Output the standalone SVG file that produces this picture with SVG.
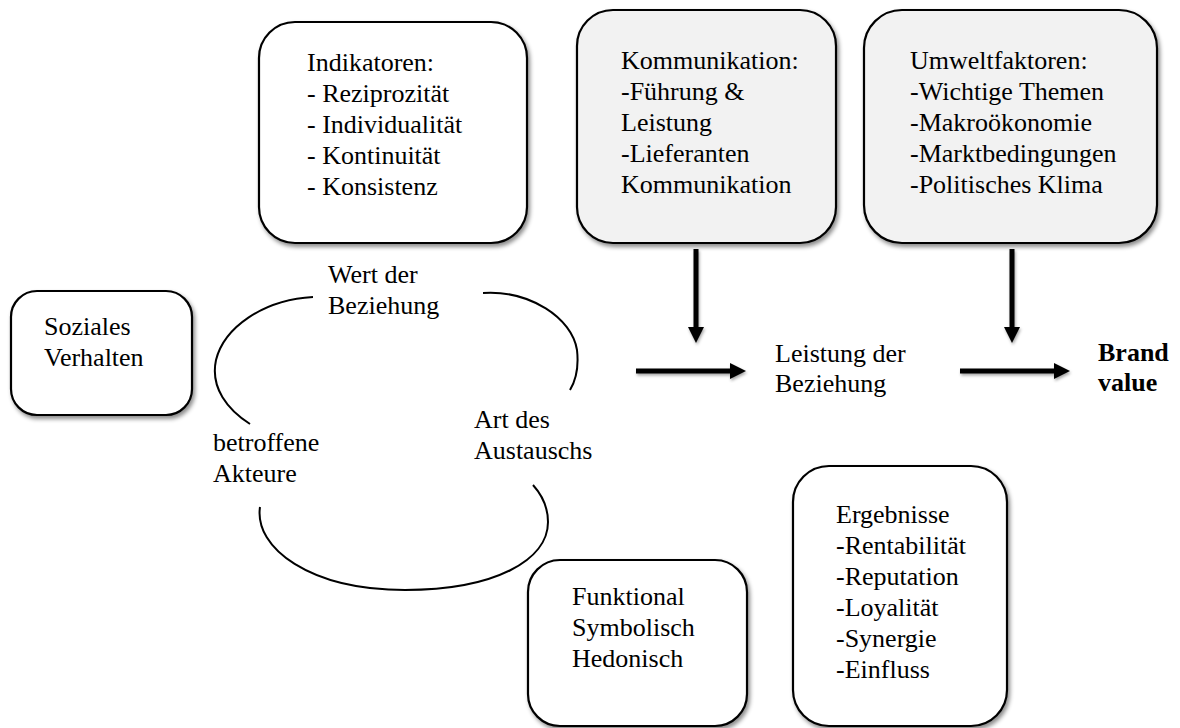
<svg xmlns="http://www.w3.org/2000/svg" width="1180" height="728" viewBox="0 0 1180 728" font-family="'Liberation Serif', 'Times New Roman', 'DejaVu Serif', serif">
<defs>
<filter id="sh" x="-10%" y="-10%" width="125%" height="130%">
<feDropShadow dx="2" dy="3" stdDeviation="2.2" flood-color="#000" flood-opacity="0.45"/>
</filter>
<filter id="ash" x="-20%" y="-20%" width="140%" height="140%">
<feDropShadow dx="1" dy="2" stdDeviation="1.5" flood-color="#000" flood-opacity="0.35"/>
</filter>
</defs>
<style>
.box{fill:#fff;stroke:#000;stroke-width:2.2;filter:url(#sh)}
.gbox{fill:#f2f2f2;stroke:#000;stroke-width:2.2;filter:url(#sh)}
.t{font-size:26px;fill:#000}
.b{font-weight:bold}
.arc{fill:none;stroke:#000;stroke-width:2}
.arr{fill:#000;stroke:none;filter:url(#ash)}
</style>
<rect width="1180" height="728" fill="#fff"/>

<g id="indikatoren">
<rect class="box" x="259" y="22" width="268" height="221" rx="36"/>
<g class="t" font-family="Liberation Serif, serif">
<text x="307" y="71">Indikatoren:</text>
<text x="307" y="102">- Reziprozität</text>
<text x="307" y="133">- Individualität</text>
<text x="307" y="164">- Kontinuität</text>
<text x="307" y="195">- Konsistenz</text>
</g>
</g>

<g id="kommunikation">
<rect class="gbox" x="577" y="10" width="259" height="233" rx="36"/>
<g class="t" font-family="Liberation Serif, serif">
<text x="621" y="69">Kommunikation:</text>
<text x="621" y="100">-Führung &amp;</text>
<text x="621" y="131">Leistung</text>
<text x="621" y="162">-Lieferanten</text>
<text x="621" y="193">Kommunikation</text>
</g>
</g>

<g id="umweltfaktoren">
<rect class="gbox" x="864" y="10" width="293" height="233" rx="38"/>
<g class="t" font-family="Liberation Serif, serif">
<text x="910" y="69">Umweltfaktoren:</text>
<text x="910" y="100">-Wichtige Themen</text>
<text x="910" y="131">-Makroökonomie</text>
<text x="910" y="162">-Marktbedingungen</text>
<text x="910" y="193">-Politisches Klima</text>
</g>
</g>

<g id="soziales">
<rect class="box" x="11" y="291" width="181" height="124" rx="26"/>
<g class="t" font-family="Liberation Serif, serif">
<text x="44" y="335">Soziales</text>
<text x="44" y="366">Verhalten</text>
</g>
</g>

<g id="kreis">
<path class="arc" d="M313,297 C262,300 224,328 216,360 C210,388 228,410 250,424"/>
<path class="arc" d="M483,293 C530,290 572,318 577,350 C579,368 576,380 570,390"/>
<path class="arc" d="M260,507 C254,548 310,590 405,590 C495,590 548,560 548,522 C548,506 542,495 533,485"/>
<g class="t" font-family="Liberation Serif, serif">
<text x="328" y="283">Wert der</text>
<text x="328" y="314">Beziehung</text>
<text x="474" y="428">Art des</text>
<text x="474" y="459">Austauschs</text>
<text x="213" y="451">betroffene</text>
<text x="213" y="482">Akteure</text>
</g>
</g>

<g id="leistung" class="t" font-family="Liberation Serif, serif">
<text x="775" y="362">Leistung der</text>
<text x="775" y="392">Beziehung</text>
</g>

<g id="brand" class="t b" font-family="Liberation Serif, serif">
<text x="1098" y="361">Brand</text>
<text x="1098" y="391">value</text>
</g>

<g id="funktional">
<rect class="box" x="528" y="560" width="219" height="166" rx="32"/>
<g class="t" font-family="Liberation Serif, serif">
<text x="572" y="605">Funktional</text>
<text x="572" y="636">Symbolisch</text>
<text x="572" y="667">Hedonisch</text>
</g>
</g>

<g id="ergebnisse">
<rect class="box" x="793" y="466" width="214" height="260" rx="36"/>
<g class="t" font-family="Liberation Serif, serif">
<text x="836" y="523">Ergebnisse</text>
<text x="836" y="554">-Rentabilität</text>
<text x="836" y="585">-Reputation</text>
<text x="836" y="616">-Loyalität</text>
<text x="836" y="647">-Synergie</text>
<text x="836" y="678">-Einfluss</text>
</g>
</g>

<g id="connectors">
<path class="arr" d="M693.5,249 L698.5,249 L698.5,327 L704,327 L696,343 L688,327 L693.5,327 Z"/>
<path class="arr" d="M1009.5,249 L1014.5,249 L1014.5,327 L1020,327 L1012,343 L1004,327 L1009.5,327 Z"/>
<path class="arr" d="M636,368.5 L730,368.5 L730,363 L746,371 L730,379 L730,373.5 L636,373.5 Z"/>
<path class="arr" d="M960,368.5 L1054,368.5 L1054,363 L1070,371 L1054,379 L1054,373.5 L960,373.5 Z"/>
</g>
</svg>
